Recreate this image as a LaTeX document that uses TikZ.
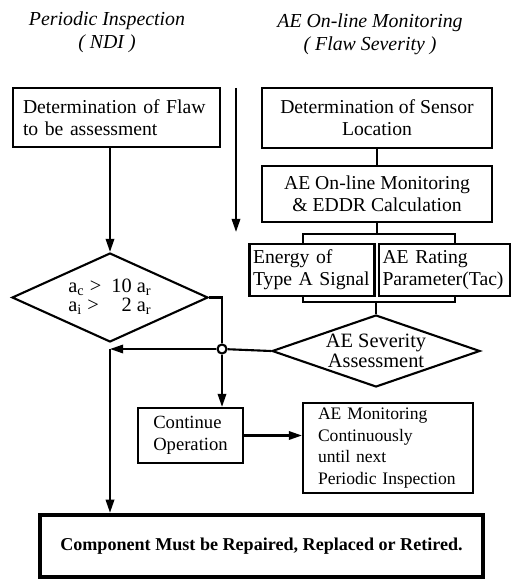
\documentclass[tikz,border=0pt]{standalone}
\usepackage{fontspec}
\setmainfont{Liberation Serif}
\usetikzlibrary{shapes.geometric,arrows.meta}

\begin{document}
\begin{tikzpicture}[x=0.02cm,y=-0.02cm,line width=1.2pt,>={Triangle[length=7.5pt,width=4.8pt]}]
\tikzstyle{every node}=[font=\fontsize{11.2}{12.5}\selectfont]
\tikzstyle{box}=[draw,rectangle,inner sep=2pt,align=center]
\tikzstyle{cond}=[draw,diamond,inner sep=0pt,align=center,font=\fontsize{11.6}{9.6}\selectfont]
\tikzstyle{title}=[align=center,font=\fontsize{11.3}{13}\selectfont\itshape]

\useasboundingbox (0,0) rectangle (512,580);

\node[title] (ndi) at (107,32) {Periodic Inspection\\( NDI )};
\node[title] (aet) at (370,34) {AE On-line Monitoring\\( Flaw Severity )};

\node[box,align=left,inner xsep=0.2cm,text width=3.74cm,minimum height=1.18cm] (flaw) at (116.5,117.5) {Determination of Flaw\\to be assessment};
\node[box,minimum width=4.6cm,minimum height=1.2cm] (sensor) at (377,118) {Determination of Sensor\\Location};
\node[box,minimum width=4.6cm,minimum height=1.12cm] (eddr) at (377,194) {AE On-line Monitoring\\\& EDDR Calculation};
\node[box,align=left,text width=2.36cm,minimum height=1.04cm] (energy) at (312,270) {Energy of\\Type A Signal};
\node[box,align=left,text width=2.48cm,minimum height=1.04cm] (rating) at (444.5,270) {AE Rating\\Parameter(Tac)};

\node[cond,aspect=2.9,minimum width=4.16cm,minimum height=1.44cm] (severity) at (376,351) {AE Severity\\Assessment};
\node[cond,aspect=2.2,minimum width=3.92cm,minimum height=1.78cm] (check) at (110,297.5)
  {\begin{tabular}{@{}l@{\ \ }r@{}}a\textsubscript{c} > & 10 a\textsubscript{r}\\ a\textsubscript{i} > & 2 a\textsubscript{r}\end{tabular}};

\node[draw,circle,fill=white,inner sep=0pt,minimum size=0.18cm] (junc) at (222,349) {};
\node[box,align=left,minimum width=2.1cm,minimum height=1.1cm,font=\fontsize{10.6}{12.3}\selectfont] (cont) at (190.5,435.5) {Continue\\Operation};
\node[box,align=left,inner xsep=0.3cm,text width=2.8cm,minimum height=1.8cm,font=\fontsize{10}{12.3}\selectfont] (monit) at (388,448)
  {AE Monitoring\\Continuously\\until next\\Periodic Inspection};
\node[box,line width=2.5pt,minimum width=8.86cm,minimum height=1.24cm,font=\fontsize{10.3}{12}\selectfont\bfseries] (repair) at (261.5,546)
  {Component Must be Repaired, Replaced or Retired.};

\coordinate (mtop) at (236,88);
\coordinate (mtip) at (236,232);
\coordinate (bl) at (303,234);
\coordinate (br) at (455,234);
\coordinate (cl) at (303,302);
\coordinate (cr) at (455,302);
\coordinate (merge) at (110,349);

% left branch
\draw[->] (flaw.south -| check.north) -- (check.north);
\draw (check.east) -| (junc);
\draw[->] (junc) -- (merge);
\draw[->] (merge) -- (merge |- repair.north);

% middle arrow
\draw[->] (mtop) -- (mtip);

% right branch
\draw (sensor) -- (eddr);
\draw (eddr.south) -- (eddr.south |- bl);
\draw (bl |- energy.north) |- (br) -- (br |- rating.north);
\draw (cl |- energy.south) |- (cr) -- (cr |- rating.south);
\draw (severity.north |- cl) -- (severity.north);
\draw (severity.west) -- (junc);

\draw[->] (junc) -- (junc |- cont.north);
\draw[->] (cont.east) -- (cont.east -| monit.west);

\end{tikzpicture}
\end{document}
